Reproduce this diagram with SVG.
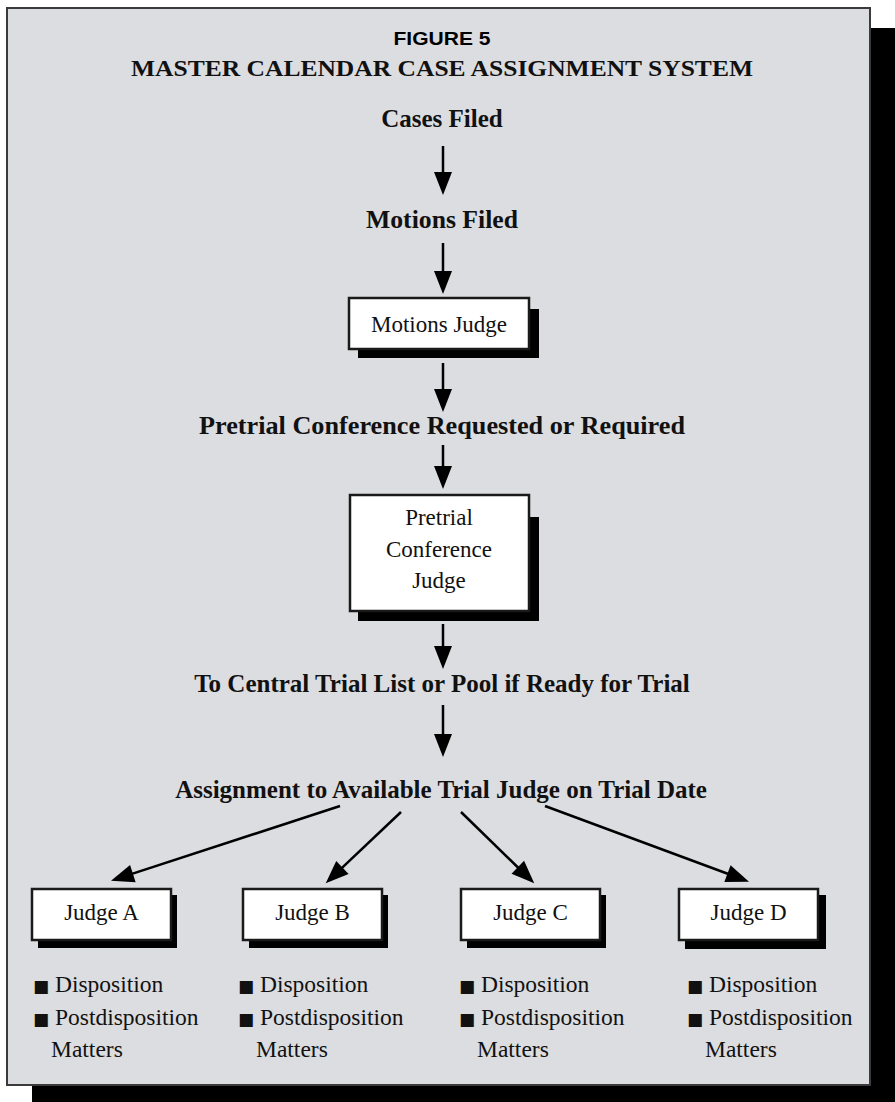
<svg xmlns="http://www.w3.org/2000/svg" width="895" height="1102" viewBox="0 0 895 1102">
  <style>
    .panel { fill: #dcdde0; stroke: #3a3a3a; stroke-width: 2; }
    .drop { fill: #000; }
    .box { fill: #fff; stroke: #1a1a1a; stroke-width: 2.5; }
    .fig { font-family: "Liberation Sans", Arial, sans-serif; font-weight: bold; font-size: 18px; fill: #000; text-anchor: middle; }
    .title { font-family: "Liberation Serif", "Times New Roman", serif; font-weight: bold; font-size: 23px; fill: #111; text-anchor: middle; }
    .step { font-family: "Liberation Serif", "Times New Roman", serif; font-weight: bold; font-size: 25px; fill: #111; text-anchor: middle; }
    .node { font-family: "Liberation Serif", "Times New Roman", serif; font-size: 23px; fill: #111; text-anchor: middle; }
    .item { font-family: "Liberation Serif", "Times New Roman", serif; font-size: 23.5px; fill: #111; }
    .sq { font-family: "DejaVu Sans", sans-serif; font-size: 17px; }
    .conn { stroke: #000; stroke-width: 2.5; fill: none; marker-end: url(#head); }
  </style>
  <defs>
    <marker id="head" markerUnits="userSpaceOnUse" markerWidth="24" markerHeight="18" refX="1" refY="9" orient="auto" overflow="visible">
      <path d="M0,0 L23,9 L0,18 Z" fill="#000"/>
    </marker>
  </defs>

  <!-- outer panel with drop shadow -->
  <g id="panel">
    <rect class="drop" x="32" y="28" width="863" height="1074"/>
    <rect class="panel" x="7" y="8" width="863" height="1077"/>
  </g>

  <!-- heading -->
  <g id="heading">
    <text class="fig" x="442" y="45" textLength="97" lengthAdjust="spacingAndGlyphs">FIGURE 5</text>
    <text class="title" x="442" y="76" textLength="622" lengthAdjust="spacingAndGlyphs">MASTER CALENDAR CASE ASSIGNMENT SYSTEM</text>
  </g>

  <!-- flow steps (plain labels) -->
  <g id="cases-filed"><text class="step" x="442" y="127">Cases Filed</text></g>
  <g id="motions-filed"><text class="step" x="442" y="228" textLength="152" lengthAdjust="spacingAndGlyphs">Motions Filed</text></g>
  <g id="pretrial-requested"><text class="step" x="442" y="434" textLength="486" lengthAdjust="spacingAndGlyphs">Pretrial Conference Requested or Required</text></g>
  <g id="central-list"><text class="step" x="442" y="692">To Central Trial List or Pool if Ready for Trial</text></g>
  <g id="assignment"><text class="step" x="441" y="798">Assignment to Available Trial Judge on Trial Date</text></g>

  <!-- boxed judges -->
  <g id="motions-judge">
    <rect class="drop" x="358" y="309" width="181" height="49"/>
    <rect class="box" x="349" y="298" width="180" height="51"/>
    <text class="node" x="439" y="332">Motions Judge</text>
  </g>
  <g id="pretrial-judge">
    <rect class="drop" x="358" y="517" width="181" height="104"/>
    <rect class="box" x="350" y="495" width="179" height="116"/>
    <text class="node" x="439" y="525">Pretrial</text>
    <text class="node" x="439" y="557">Conference</text>
    <text class="node" x="439" y="588">Judge</text>
  </g>
  <g id="judge-a">
    <rect class="drop" x="38" y="895" width="139" height="53"/>
    <rect class="box" x="32" y="889" width="139" height="51"/>
    <text class="node" x="101.5" y="920">Judge A</text>
  </g>
  <g id="judge-b">
    <rect class="drop" x="249" y="895" width="139" height="53"/>
    <rect class="box" x="243" y="889" width="139" height="51"/>
    <text class="node" x="312.5" y="920">Judge B</text>
  </g>
  <g id="judge-c">
    <rect class="drop" x="467" y="895" width="139" height="53"/>
    <rect class="box" x="461" y="889" width="139" height="51"/>
    <text class="node" x="530.5" y="920">Judge C</text>
  </g>
  <g id="judge-d">
    <rect class="drop" x="685" y="895" width="141" height="54"/>
    <rect class="box" x="679" y="889" width="139" height="51"/>
    <text class="node" x="748.5" y="920">Judge D</text>
  </g>

  <!-- duties under each judge -->
  <g id="duties-a">
    <text class="item" x="33" y="992"><tspan class="sq">■</tspan> Disposition</text>
    <text class="item" x="33" y="1025"><tspan class="sq">■</tspan> Postdisposition</text>
    <text class="item" x="51" y="1057">Matters</text>
  </g>
  <g id="duties-b">
    <text class="item" x="238" y="992"><tspan class="sq">■</tspan> Disposition</text>
    <text class="item" x="238" y="1025"><tspan class="sq">■</tspan> Postdisposition</text>
    <text class="item" x="256" y="1057">Matters</text>
  </g>
  <g id="duties-c">
    <text class="item" x="459" y="992"><tspan class="sq">■</tspan> Disposition</text>
    <text class="item" x="459" y="1025"><tspan class="sq">■</tspan> Postdisposition</text>
    <text class="item" x="477" y="1057">Matters</text>
  </g>
  <g id="duties-d">
    <text class="item" x="687" y="992"><tspan class="sq">■</tspan> Disposition</text>
    <text class="item" x="687" y="1025"><tspan class="sq">■</tspan> Postdisposition</text>
    <text class="item" x="705" y="1057">Matters</text>
  </g>

  <!-- connectors: each line stops at the base of its arrowhead -->
  <g id="connectors">
    <line class="conn" x1="443" y1="146" x2="443" y2="173"/>
    <line class="conn" x1="443" y1="243" x2="443" y2="272"/>
    <line class="conn" x1="443" y1="363" x2="443" y2="390"/>
    <line class="conn" x1="443" y1="445" x2="443" y2="467"/>
    <line class="conn" x1="443" y1="624" x2="443" y2="647"/>
    <line class="conn" x1="443" y1="705" x2="443" y2="735"/>
    <line class="conn" x1="340" y1="806" x2="131.9" y2="873.9"/>
    <line class="conn" x1="401" y1="812" x2="341.7" y2="868.2"/>
    <line class="conn" x1="461" y1="812" x2="518.5" y2="868.0"/>
    <line class="conn" x1="545" y1="806" x2="728.4" y2="874.0"/>
  </g>
</svg>
